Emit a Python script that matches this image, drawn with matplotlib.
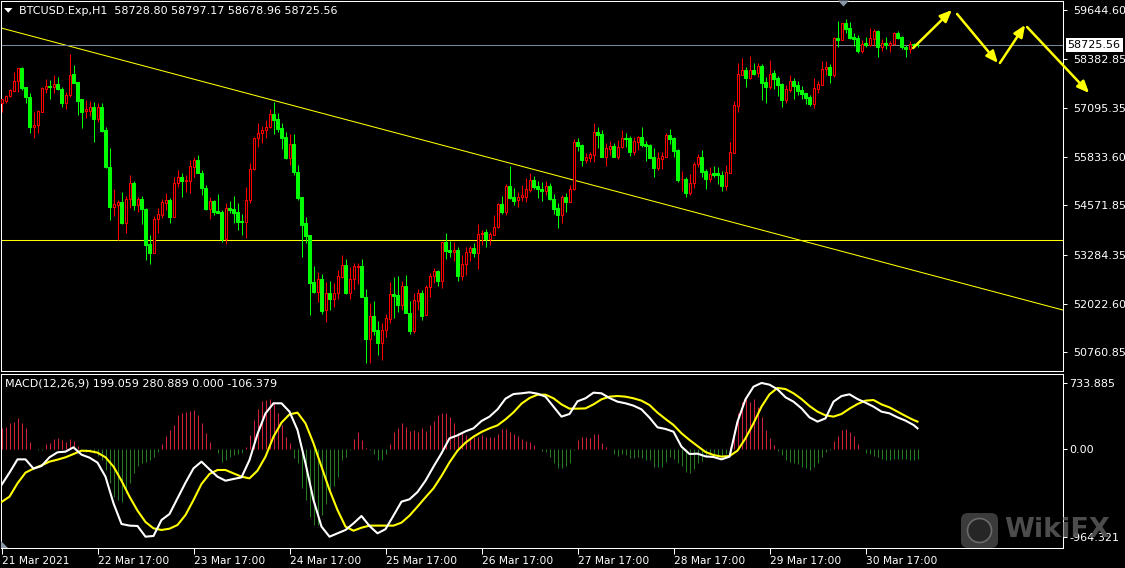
import matplotlib
matplotlib.use("Agg")
import matplotlib.pyplot as plt
import numpy as np
from matplotlib.patches import Polygon, FancyBboxPatch, Circle
from matplotlib.transforms import Affine2D, blended_transform_factory

plt.rcParams['font.family'] = ['DejaVu Sans']

# ---------------- data (BTCUSD H1) ----------------
opens = [57240, 57292, 57413, 57551, 57793, 58139, 57638, 57378, 56617, 56652,
         57006, 57603, 57672, 57638, 57724, 57603, 57240, 57430, 57992, 57785,
         57326, 57015, 57032, 57127, 56807, 57127, 56530, 55570, 54541, 54593,
         54662, 54126, 54731, 55146, 54593, 54731, 54472, 53572, 53347, 54212,
         54333, 54645, 54714, 54282, 55146, 55311, 55216, 55216, 55579, 55752,
         55406, 55034, 54489, 54679, 54420, 54403, 53702, 54498, 54480, 54403,
         54169, 54152, 54714, 55518, 56314, 56444, 56522, 56608, 56946, 56807,
         56574, 56340, 55813, 56159, 55432, 54783, 54108, 53797, 52586, 52335,
         52655, 51860, 52292, 52145, 52292, 52707, 53019, 52292, 52655, 52984,
         53001, 52206, 51116, 51704, 51341, 51012, 51341, 51635, 52275, 52249,
         51989, 52482, 51790, 51323, 52102, 52292, 51730, 52448, 52742, 52863,
         52612, 53624, 53417, 53373, 53417, 52742, 53053, 53365, 53468, 53347,
         53832, 53884, 53693, 53806, 54005, 54610, 54394, 55077, 54800, 54714,
         54783, 54800, 54973, 55233, 55077, 55008, 54956, 55077, 54749, 54506,
         54333, 54800, 54662, 54991, 56228, 56133, 55752, 55804, 55890, 56479,
         56427, 55838, 56046, 56115, 55838, 56081, 56323, 56323, 55968, 56228,
         56340, 56167, 56133, 55821, 55544, 55787, 55838, 56401, 56323, 56012,
         55250, 55250, 54904, 55164, 55648, 55830, 55458, 55268, 55406, 55406,
         55371, 55077, 55423, 55942, 57162, 57966, 58088, 57889, 58088, 58001,
         58191, 57776, 57655, 58001, 57880, 57724, 57309, 57568, 57802, 57690,
         57568, 57482, 57378, 57205, 57603, 57707, 58105, 58157, 57966, 58918,
         58875, 59299, 59177, 58935, 58918, 58572, 58780, 58745, 58901, 59108,
         58676, 58780, 58745, 58762, 59039, 58935, 58693, 58641, 58762, 58728.80]
highs = [57344, 57439, 57586, 58027, 58139, 58174, 57638, 57482, 57006, 57050,
         57655, 57845, 57828, 57958, 57897, 57655, 57525, 58503, 58217, 57785,
         57326, 57309, 57292, 57257, 57222, 57222, 56600, 56055, 54991, 54714,
         54930, 54818, 55363, 55216, 54783, 54818, 54498, 53806, 54299, 54498,
         54731, 54887, 54757, 55320, 55493, 55406, 55363, 55752, 55821, 55882,
         55493, 55103, 54801, 54714, 54870, 54454, 54645, 54688, 54818, 54627,
         54351, 55060, 55683, 56357, 56704, 56634, 56790, 57075, 57248, 56963,
         56704, 56479, 56418, 56418, 55622, 54783, 54282, 53797, 53001, 52854,
         52794, 52577, 52612, 52552, 52898, 53287, 53174, 52984, 53071, 53071,
         53174, 52396, 52033, 52102, 51574, 51514, 51756, 52577, 52725, 52742,
         52621, 52768, 52102, 52292, 52396, 52379, 52508, 52811, 52958, 52898,
         53624, 53849, 53650, 53624, 53503, 53287, 53503, 53520, 53607, 54091,
         53935, 53953, 53892, 54325, 54627, 54818, 55129, 55596, 55025, 54930,
         55103, 55276, 55406, 55337, 55216, 55190, 55207, 55146, 54870, 54627,
         54844, 54887, 55112, 56288, 56314, 56167, 55925, 55968, 56712, 56600,
         56530, 56184, 56254, 56202, 56271, 56530, 56444, 56375, 56340, 56375,
         56600, 56254, 56159, 56063, 55960, 55968, 56444, 56556, 56357, 56046,
         55467, 55320, 55389, 55709, 55908, 56012, 55527, 55562, 55596, 55562,
         55467, 55622, 56228, 57292, 58278, 58408, 58174, 58451, 58278, 58261,
         58243, 57915, 58347, 58088, 57932, 57742, 57698, 57958, 57871, 57802,
         57672, 57499, 57439, 57871, 57793, 58321, 58321, 58243, 58953, 59359,
         59316, 59411, 59324, 59039, 58996, 58866, 58935, 59169, 59143, 59126,
         58892, 58935, 58849, 59074, 59108, 58970, 58745, 58840, 58780, 58797.17]
lows = [57006, 57222, 57395, 57551, 57525, 57568, 57222, 56461, 56314, 56461,
        57006, 57482, 57344, 57482, 57568, 57136, 57084, 57395, 57741, 56920,
        56574, 56833, 56894, 56228, 56747, 56487, 55536, 54195, 54307, 53676,
        54100, 53849, 54498, 54454, 54411, 54091, 53157, 53053, 53330, 53866,
        54238, 54454, 54126, 54282, 55060, 54801, 54930, 54887, 55320, 55406,
        54844, 54454, 54230, 54325, 54368, 53633, 53572, 54385, 54108, 53935,
        53806, 53737, 54645, 55493, 56081, 56202, 56314, 56574, 56418, 56470,
        56046, 55778, 55614, 55363, 54714, 53244, 53590, 51730, 52292, 52058,
        51756, 51539, 51860, 51946, 52145, 52681, 52275, 52136, 52396, 52534,
        52188, 50493, 50493, 51211, 50692, 50562, 51150, 51531, 51643, 51816,
        51860, 51773, 51237, 51254, 51860, 51600, 51730, 52206, 52552, 52482,
        52439, 53192, 53244, 53140, 52621, 52638, 52768, 53140, 53244, 52915,
        53555, 53503, 53546, 53797, 53979, 54351, 54325, 54731, 54584, 54524,
        54697, 54671, 54930, 54991, 54757, 54697, 54835, 54714, 54351, 53996,
        54108, 54411, 54653, 54973, 55994, 55596, 55665, 55709, 55709, 56055,
        55821, 55596, 55882, 55821, 55787, 56063, 56098, 55856, 55882, 56012,
        56098, 55735, 55813, 55320, 55493, 55527, 55821, 56167, 55838, 55190,
        54956, 54800, 54844, 55034, 55562, 55320, 54999, 55190, 55320, 55129,
        54956, 54973, 55406, 55925, 57006, 57958, 57655, 57845, 57958, 57915,
        57309, 57222, 57586, 57603, 57413, 57136, 57240, 57525, 57326, 57439,
        57326, 57205, 57153, 57101, 57482, 57690, 57958, 57759, 57897, 58676,
        58866, 59056, 58883, 58710, 58537, 58520, 58693, 58710, 58710, 58416,
        58589, 58624, 58563, 58728, 58883, 58641, 58416, 58537, 58700, 58678.96]
closes = [57326, 57413, 57568, 57793, 58131, 57629, 57378, 56617, 56660, 57024,
          57612, 57672, 57638, 57724, 57603, 57240, 57430, 57958, 57759, 57292,
          57006, 57067, 57119, 56807, 57127, 56513, 55562, 54541, 54610, 54662,
          54126, 54731, 55146, 54593, 54731, 54472, 53555, 53347, 54212, 54351,
          54653, 54714, 54282, 55146, 55311, 55216, 55224, 55596, 55752, 55406,
          55034, 54489, 54679, 54411, 54385, 53702, 54498, 54454, 54385, 54152,
          54152, 54714, 55518, 56314, 56444, 56522, 56608, 56946, 56790, 56565,
          56332, 55813, 56159, 55432, 54775, 54074, 53788, 52569, 52335, 52655,
          51842, 52292, 52145, 52292, 52742, 53019, 52292, 52655, 53001, 53001,
          52188, 51116, 51704, 51323, 51012, 51341, 51652, 52275, 52223, 51989,
          52482, 51773, 51323, 52119, 52292, 51704, 52448, 52742, 52863, 52612,
          53624, 53399, 53373, 53417, 52750, 53053, 53365, 53468, 53347, 53832,
          53866, 53693, 53832, 54005, 54610, 54394, 55077, 54757, 54697, 54800,
          54835, 54991, 55233, 55043, 54991, 54956, 55077, 54731, 54489, 54333,
          54800, 54662, 54999, 56228, 56115, 55752, 55821, 55908, 56479, 56401,
          55838, 56055, 56115, 55838, 56081, 56323, 56288, 55968, 56236, 56340,
          56141, 56115, 55813, 55544, 55804, 55856, 56401, 56306, 55994, 55233,
          55268, 54904, 55164, 55648, 55830, 55441, 55268, 55389, 55371, 55354,
          55077, 55432, 55951, 57171, 57984, 58088, 57889, 58088, 57984, 58191,
          57759, 57655, 57984, 57854, 57690, 57309, 57586, 57802, 57672, 57543,
          57465, 57352, 57205, 57620, 57724, 58105, 58157, 57966, 58918, 58875,
          59299, 59160, 58918, 58901, 58572, 58753, 58745, 58909, 59108, 58676,
          58780, 58728, 58780, 59039, 58918, 58676, 58641, 58762, 58728, 58725.56]

# MACD(12,26,9) sampled every second bar (+ last bar)
macd_bars = list(range(0, 229, 2)) + [229]
macd_line = [-393, -257, -111, -111, -213, -184, -88, -33, -26, 22,
             -59, -92, -147, -302, -595, -823, -841, -845, -963, -955,
             -779, -713, -540, -368, -210, -136, -221, -302, -346, -327,
             -309, -118, 169, 396, 507, 507, 415, 213, -155, -559,
             -852, -963, -926, -889, -816, -735, -845, -926, -880, -730,
             -577, -551, -471, -346, -191, -44, 121, 154, 198, 231,
             312, 360, 440, 558, 609, 617, 628, 613, 580, 470,
             360, 389, 529, 562, 624, 617, 565, 525, 507, 481,
             440, 349, 242, 224, 194, 29, -52, -48, -78, -85,
             -111, -81, 305, 551, 690, 731, 712, 661, 573, 525,
             451, 352, 305, 341, 525, 587, 606, 554, 514, 470,
             415, 396, 352, 316, 268, 231]
signal_line = [-581, -522, -375, -257, -213, -177, -136, -114, -88, -52,
               -15, -19, -37, -88, -191, -346, -522, -676, -801, -871,
               -889, -875, -834, -724, -559, -382, -272, -228, -228, -265,
               -302, -320, -235, -81, 139, 294, 385, 404, 286, 66,
               -191, -448, -669, -852, -897, -864, -841, -841, -841, -841,
               -808, -731, -632, -529, -430, -294, -144, -15, 73, 139,
               191, 231, 264, 330, 407, 503, 565, 602, 602, 562,
               495, 448, 448, 451, 495, 551, 580, 587, 580, 562,
               536, 488, 404, 334, 268, 176, 103, 36, -30, -63,
               -81, -74, -15, 121, 286, 470, 606, 676, 664, 617,
               554, 477, 415, 374, 360, 389, 448, 499, 536, 543,
               495, 462, 415, 367, 323, 305]
hist = [231, 249, 286, 305, 341, 294, 231, 84, 2, -7,
        -7, 58, 73, 110, 121, 102, 84, 110, 92, 36,
        0, -26, -26, -44, -74, -118, -228, -375, -529, -559,
        -577, -478, -375, -265, -184, -147, -136, -118, -81, -26,
        58, 147, 213, 268, 378, 404, 415, 426, 433, 378,
        286, 176, 84, 0, -44, -136, -118, -88, -63, -52,
        -37, 22, 158, 323, 440, 536, 543, 551, 507, 396,
        268, 132, 66, -100, -155, -430, -559, -742, -834, -834,
        -724, -603, -448, -404, -302, -118, -81, -7, 110, 194,
        102, 11, -7, -52, -118, -115, -52, 62, 194, 231,
        294, 249, 205, 213, 194, 231, 205, 268, 316, 378,
        404, 396, 352, 286, 183, 183, 158, 139, 132, 132,
        158, 132, 132, 132, 169, 220, 220, 194, 169, 147,
        114, 92, 84, 47, 5, -15, -26, -81, -155, -210,
        -210, -184, -147, -3, 102, 132, 132, 128, 169, 169,
        73, 22, 0, -52, -74, -52, -63, -100, -100, -81,
        -100, -118, -118, -191, -199, -191, -136, -88, -111, -155,
        -184, -246, -265, -221, -147, -125, -81, -63, -52, -63,
        -81, -52, 22, 205, 404, 525, 580, 525, 551, 470,
        360, 213, 121, 47, -15, -63, -118, -136, -147, -162,
        -191, -210, -228, -199, -155, -88, -26, -3, 95, 147,
        213, 224, 194, 147, 58, 7, -44, -52, -74, -88,
        -111, -118, -118, -111, -111, -111, -111, -118, -118, -106]

date_tick_bars = [0, 24, 48, 72, 96, 120, 144, 168, 192, 216]
date_labels = ["21 Mar 2021", "22 Mar 17:00", "23 Mar 17:00", "24 Mar 17:00",
               "25 Mar 17:00", "26 Mar 17:00", "27 Mar 17:00", "28 Mar 17:00",
               "29 Mar 17:00", "30 Mar 17:00"]
price_ticks = [59644.60, 58382.85, 57095.35, 55833.60, 54571.85, 53284.35,
               52022.60, 50760.85]
macd_ticks = [733.885, 0.0, -964.321]
macd_tick_labels = ["733.885", "0.00", "-964.321"]

support_price = 53668
trend_anchor_a = (0, 59175)
trend_anchor_b = (229, 52861)
current_price = 58725.56
header_text = "BTCUSD.Exp,H1  58728.80 58797.17 58678.96 58725.56"
macd_header = "MACD(12,26,9) 199.059 280.889 0.000 -106.379"
# hand-drawn forecast arrows (bar, price) tail -> head
forecast_arrows = [((227.9, 58658), (237.6, 59644)),
                   ((238.9, 59541), (249.1, 58269)),
                   ((249.6, 58269), (255.9, 59255)),
                   ((256.4, 59203), (271.9, 57491))]

# ---------------- figure ----------------
W, H = 1125, 568
fig = plt.figure(figsize=(W / 100, H / 100), dpi=100, facecolor='black')
PX = Affine2D().scale(1.0 / W, -1.0 / H).translate(0, 1) + fig.transFigure


def box(x0, y0, x1, y1):
    return [x0 / W, 1 - y1 / H, (x1 - x0) / W, (y1 - y0) / H]


ax = fig.add_axes(box(0.5, 0.5, 1063, 371), facecolor='black')
ax2 = fig.add_axes(box(0.5, 373.5, 1063, 548), facecolor='black')
LW = 0.75
FS = 8

o = np.array(opens, float)
h = np.array(highs, float)
l = np.array(lows, float)
c = np.array(closes, float)
idx = np.arange(len(c))
up = c > o
wick_cols = np.where(up, '#ff0000', '#00ff00')

ax.vlines(idx, l, h, colors=wick_cols, linewidth=LW, zorder=2)
ax.bar(idx[up], c[up] - o[up], bottom=o[up], width=0.5, facecolor='black',
       edgecolor='#ff0000', linewidth=LW, zorder=3)
ax.bar(idx[~up], o[~up] - c[~up], bottom=c[~up], width=0.6, facecolor='#00ff00',
       edgecolor='#00ff00', linewidth=LW, zorder=3)

ax.axhline(support_price, color='#ffff00', lw=LW, zorder=1)
ax.axline(trend_anchor_a, trend_anchor_b, color='#ffff00', lw=LW, zorder=1)
ax.axhline(current_price, color='#778899', lw=LW, zorder=1)

ax.set_xlim(-0.25, 265.375)
ax.set_ylim(50276.5, 59891)
ax.set_xticks([])
ax.yaxis.tick_right()
ax.set_yticks(price_ticks)
ax.set_yticklabels(["%.2f" % v for v in price_ticks])
ax.tick_params(axis='y', colors='white', length=3, width=LW, pad=4, labelsize=FS)
for s in ax.spines.values():
    s.set_color('white')
    s.set_linewidth(LW)

# current price tag
bt = blended_transform_factory(ax.transAxes, ax.transData)
ax.text(1.0 + 4.5 / 1062.5, current_price, "%.2f" % current_price, transform=bt,
        ha='left', va='center', fontsize=FS, color='black', zorder=10,
        bbox=dict(boxstyle='square,pad=0.18', fc='white', ec='none'), clip_on=False)

for tail, head in forecast_arrows:
    ax.annotate('', xy=head, xytext=tail, xycoords='data', textcoords='data',
                annotation_clip=False,
                arrowprops=dict(arrowstyle='-|>,head_length=0.7,head_width=0.3',
                                color='#ffff00', lw=1.8, shrinkA=0, shrinkB=0))

# ---------------- MACD ----------------
hv = np.array(hist, float)
hcols = np.where(hv >= 0, '#d0203c', '#237a23')
ax2.vlines(idx, 0, hv, colors=hcols, linewidth=LW, zorder=2)
ax2.plot(macd_bars, macd_line, color='white', lw=1.5, zorder=4)
ax2.plot(macd_bars, signal_line, color='#ffff00', lw=1.5, zorder=3)
ax2.set_xlim(-0.25, 265.375)
ax2.set_ylim(-1087.7, 835.3)
ax2.yaxis.tick_right()
ax2.set_yticks(macd_ticks)
ax2.set_yticklabels(macd_tick_labels)
ax2.tick_params(axis='y', colors='white', length=3, width=LW, pad=1.5, labelsize=FS)
ax2.set_xticks(date_tick_bars)
ax2.set_xticklabels(date_labels)
ax2.tick_params(axis='x', colors='white', length=4, width=LW, pad=1.5, labelsize=7.7)
for t in ax2.get_xticklabels():
    t.set_ha('left')
for s in ax2.spines.values():
    s.set_color('white')
    s.set_linewidth(LW)

# ---------------- texts & decorations ----------------
fig.text(19 / W, 1 - 10.5 / H, header_text, color='white', fontsize=FS,
         ha='left', va='center')
fig.text(5 / W, 1 - 384 / H, macd_header, color='white', fontsize=FS,
         ha='left', va='center')
fig.patches.append(Polygon([(4, 8), (12.5, 8), (8.25, 12.7)], closed=True,
                           fc='white', ec='none', transform=PX))
fig.patches.append(Polygon([(838, 0.5), (849, 0.5), (843.5, 6.5)], closed=True,
                           fc='#8a98a8', ec='none', transform=PX))
fig.patches.append(Polygon([(1, 541), (1, 547.5), (7.5, 547.5)], closed=True,
                           fc='#8a98a8', ec='none', transform=PX))

# WikiFX watermark
fig.patches.append(FancyBboxPatch((961, 513), 37, 35, boxstyle='round,pad=0,rounding_size=7',
                                  fc='#4a4a4a', ec='none', alpha=0.8, transform=PX))
fig.patches.append(Circle((979.5, 530.5), 12, fc='#262626', ec='#6a6a6a', lw=1.2,
                          transform=PX))
fig.text(1004 / W, 1 - 530 / H, "WikiFX", color='#555555', fontsize=19.5,
         fontweight='bold', ha='left', va='center', alpha=0.9, zorder=0)

fig.savefig('out.png', dpi=100, facecolor='black')
